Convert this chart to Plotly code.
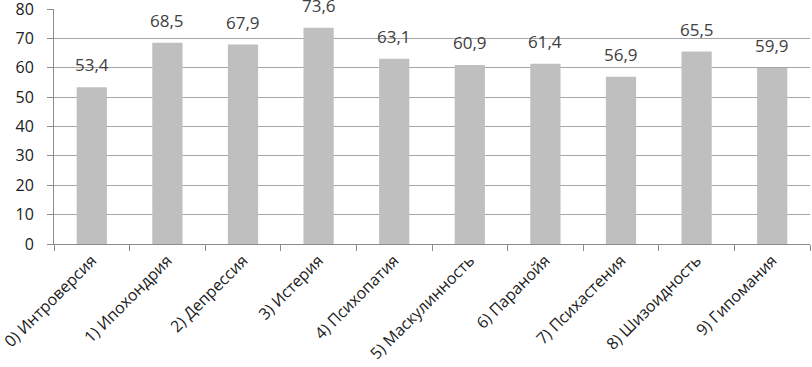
import plotly.graph_objects as go

categories = ["0) Интроверсия", "1) Ипохондрия", "2) Депрессия", "3) Истерия",
              "4) Психопатия", "5) Маскулинность", "6) Паранойя", "7) Психастения",
              "8) Шизоидность", "9) Гипомания"]
values = [53.4, 68.5, 67.9, 73.6, 63.1, 60.9, 61.4, 56.9, 65.5, 59.9]
labels = [f"{v:.1f}".replace(".", ",") for v in values]
y_ticks = [0, 10, 20, 30, 40, 50, 60, 70, 80]

fig = go.Figure(go.Bar(
    x=categories, y=values,
    marker=dict(color="#BFBFBF", line=dict(width=0)),
    hoverinfo="skip",
))

for c, v, t in zip(categories, values, labels):
    fig.add_annotation(
        x=c, y=v, text=t, showarrow=False, yanchor="bottom", yshift=9,
        font=dict(size=17, color="#404040", family="Open Sans"),
    )

fig.update_layout(
    width=812, height=367,
    margin=dict(l=54, r=2, t=9, b=123),
    paper_bgcolor="white", plot_bgcolor="white",
    bargap=0.6, showlegend=False,
    font=dict(family="Open Sans", color="#202020"),
)
fig.update_xaxes(
    tickangle=-45, tickfont=dict(size=16, color="#202020"),
    showline=True, linecolor="#8C8C8C", linewidth=1,
    ticks="outside", tickson="boundaries", ticklen=6, tickcolor="#8C8C8C",
    automargin=False,
)
fig.update_yaxes(
    range=[0, 80], tickvals=y_ticks, tickfont=dict(size=16, color="#202020"),
    showgrid=True, gridcolor="#A6A6A6", gridwidth=1,
    showline=True, linecolor="#8C8C8C", linewidth=1,
    ticks="outside", ticklen=6, tickcolor="#8C8C8C", ticklabelstandoff=10,
    ticklabeloverflow="allow", zeroline=False, automargin=False,
)

fig.write_html("out.html", config={"displayModeBar": False},
               post_script="document.body.style.margin='0';")
